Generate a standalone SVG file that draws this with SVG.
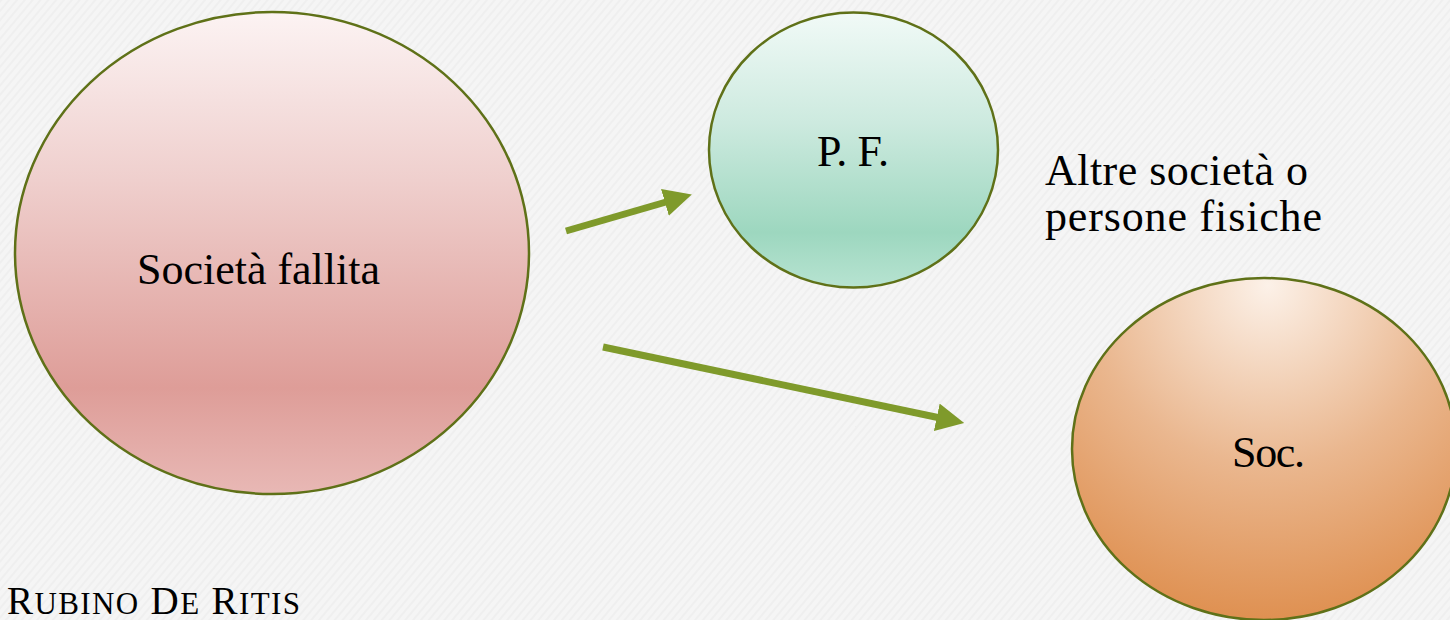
<svg xmlns="http://www.w3.org/2000/svg" width="1450" height="620" viewBox="0 0 1450 620">
<style>
  .node-shape { stroke: #5f7118; stroke-width: 2.5; }
  .lbl { font-family: "Liberation Serif", "Times New Roman", serif; font-size: 44px; fill: #000; }
  .conn { stroke: #7f9a2b; stroke-width: 7; fill: none; }
</style>
<defs>
  <pattern id="bgtex" width="6" height="6" patternUnits="userSpaceOnUse" patternTransform="rotate(-50)">
    <rect width="6" height="6" fill="#f5f5f5"/>
    <rect width="6" height="2" fill="#efefef"/>
  </pattern>
  <linearGradient id="gPink" x1="0" y1="0" x2="0" y2="1">
    <stop offset="0" stop-color="#fcf3f3"/>
    <stop offset="0.35" stop-color="#efcfcd"/>
    <stop offset="0.78" stop-color="#de9d98"/>
    <stop offset="1" stop-color="#e8b8b5"/>
  </linearGradient>
  <linearGradient id="gGreen" x1="0" y1="0" x2="0" y2="1">
    <stop offset="0" stop-color="#f1faf7"/>
    <stop offset="0.4" stop-color="#cdeadf"/>
    <stop offset="0.8" stop-color="#9dd7bf"/>
    <stop offset="1" stop-color="#b7e3d1"/>
  </linearGradient>
  <radialGradient id="gOrange" cx="1268" cy="285" r="360" gradientUnits="userSpaceOnUse" fx="1268" fy="285">
    <stop offset="0" stop-color="#fcf1e8"/>
    <stop offset="0.5" stop-color="#eab78f"/>
    <stop offset="1" stop-color="#dd8a47"/>
  </radialGradient>
  <marker id="ah" markerWidth="4" markerHeight="4" refX="1.2" refY="2" orient="auto" markerUnits="strokeWidth">
    <path d="M0,0 L4,2 L0,4 Z" fill="#7f9a2b"/>
  </marker>
</defs>
<rect width="1450" height="620" fill="url(#bgtex)"/>

<g id="connectors">
  <line class="conn" x1="566" y1="231" x2="673" y2="200" marker-end="url(#ah)"/>
  <line class="conn" x1="603" y1="347" x2="945" y2="419" marker-end="url(#ah)"/>
</g>

<g id="node-societa-fallita">
  <ellipse class="node-shape" cx="272" cy="253" rx="257" ry="241" fill="url(#gPink)"/>
  <text class="lbl" x="137" y="284" textLength="243">Società fallita</text>
</g>

<g id="node-pf">
  <ellipse class="node-shape" cx="853.5" cy="150" rx="144.5" ry="137.5" fill="url(#gGreen)"/>
  <text class="lbl" x="817" y="166" font-size="40" textLength="72">P. F.</text>
</g>

<g id="node-soc">
  <ellipse class="node-shape" cx="1264" cy="449" rx="192" ry="171" fill="url(#gOrange)"/>
  <text class="lbl" x="1232" y="467" font-size="42" textLength="73">Soc.</text>
</g>

<g id="label-altre">
  <text class="lbl" x="1045" y="185" textLength="263">Altre società o</text>
  <text class="lbl" x="1045" y="231" textLength="277">persone fisiche</text>
</g>

<g id="label-author">
  <text font-family="Liberation Serif, Times New Roman, serif" font-size="39" fill="#000" x="7" y="614" textLength="293">R<tspan font-size="31">UBINO</tspan> D<tspan font-size="31">E</tspan> R<tspan font-size="31">ITIS</tspan></text>
</g>
</svg>
